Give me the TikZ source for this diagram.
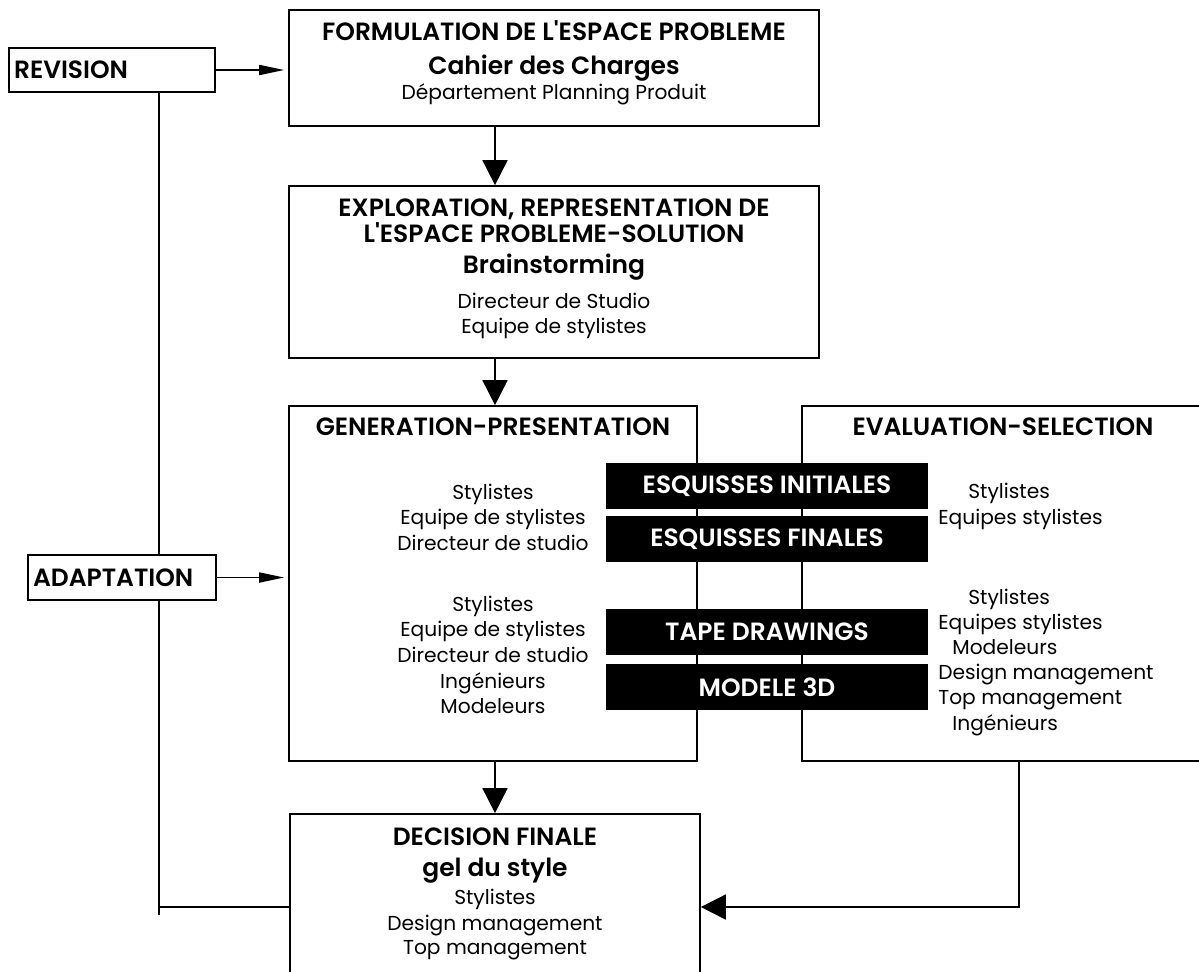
\documentclass[tikz,border=0pt]{standalone}
\usepackage{fontspec}
\setmainfont{Poppins}[BoldFont={Poppins SemiBold}]
\usetikzlibrary{arrows.meta,calc,positioning}

\newcommand{\hdfont}{\bfseries\fontsize{14.2}{17}\selectfont}
\newcommand{\rgfont}{\fontsize{11.5}{14}\selectfont}
\tikzset{
  box/.style={draw,line width=1pt,inner sep=0pt},
  blk/.style={fill=black,text=white,inner sep=0pt,minimum width=6.44cm,minimum height=0.92cm,font=\hdfont},
  tag/.style={draw,line width=1pt,inner xsep=0.1cm,align=left,font=\hdfont},
  rg/.style={anchor=base,inner sep=0pt,font=\rgfont},
  hd/.style={anchor=base,inner sep=0pt,font=\hdfont},
  dn/.style={-{Triangle[length=0.5cm,width=0.5cm]},line width=1pt},
  rt/.style={-{Triangle[length=0.5cm,width=0.2cm]},line width=1pt,shorten >=0.08cm}
}

\begin{document}
\begin{tikzpicture}[x=0.02cm,y=-0.02cm]
\useasboundingbox (0,0) rectangle (1199,971); \clip (0,0) rectangle (1199,971);
% main boxes
\node[box,minimum width=10.6cm,minimum height=2.32cm] (form) at (554,68) {};
\node[box,minimum width=10.6cm,minimum height=3.44cm] (expl) at (554,272) {};
\node[box,minimum width=8.16cm,minimum height=7.1cm] (gen) at (493,583.5) {};
\node[box,minimum width=8.04cm,minimum height=7.1cm] (eval) at (1003,583.5) {};
\node[box,minimum width=8.2cm,minimum height=3.72cm] (dec) at (495,907) {};
\node[tag,text width=3.92cm,minimum height=0.88cm] (rev) at (112,70) {REVISION};
\node[tag,text width=3.56cm,minimum height=0.9cm] (adapt) at (122,577.5) {ADAPTATION};
% black bands
\node[blk] (esi) at (767,486) {ESQUISSES INITIALES};
\node[blk] (esf) at (767,539) {ESQUISSES FINALES};
\node[blk] (tape) at (767,632) {TAPE DRAWINGS};
\node[blk] (mod) at (767,687) {MODELE 3D};
% texts
\node[hd] (f1) at (554,40) {FORMULATION DE L\textquotesingle ESPACE PROBLEME};
\node[hd] (f2) at (554,74) {Cahier des Charges};
\node[rg] (f3) at (554,99) {Département Planning Produit};
\node[hd] (e1) at (554,216) {EXPLORATION, REPRESENTATION DE};
\node[hd] (e2) at (554,242) {L\textquotesingle ESPACE PROBLEME-SOLUTION};
\node[hd] (e3) at (554,273) {Brainstorming};
\node[rg] (e4) at (554,308) {Directeur de Studio};
\node[rg] (e5) at (554,333) {Equipe de stylistes};
\node[hd] (g0) at (493,435) {GENERATION-PRESENTATION};
\node[rg] (g1) at (493,499) {Stylistes}; \node[rg] (g2) at (493,524) {Equipe de stylistes};
\node[rg] (g3) at (493,550) {Directeur de studio};
\node[rg] (g4) at (493,611) {Stylistes}; \node[rg] (g5) at (493,636) {Equipe de stylistes};
\node[rg] (g6) at (493,662) {Directeur de studio}; \node[rg] (g7) at (493,688) {Ingénieurs};
\node[rg] (g8) at (493,713) {Modeleurs};
\node[hd] (v0) at (1003,435) {EVALUATION-SELECTION};
\node[rg,anchor=base west] (v1) at (968,498) {Stylistes};
\node[rg,anchor=base west] (v2) at (938,524) {Equipes stylistes};
\node[rg,anchor=base west] (v3) at (968,604) {Stylistes};
\node[rg,anchor=base west] (v4) at (938,629) {Equipes stylistes};
\node[rg,anchor=base west] (v5) at (952,654) {Modeleurs};
\node[rg,anchor=base west] (v6) at (938,679) {Design management};
\node[rg,anchor=base west] (v7) at (938,704) {Top management};
\node[rg,anchor=base west] (v8) at (952,730) {Ingénieurs};
\node[hd] (d1) at (495,845) {DECISION FINALE};
\node[hd] (d2) at (495,876) {gel du style};
\node[rg] (d3) at (495,904) {Stylistes};
\node[rg] (d4) at (495,930) {Design management};
\node[rg] (d5) at (495,954) {Top management};
% connectors
\draw[rt] (rev.east) -- (rev.east -| form.west);
\draw[rt] (adapt.east) -- (adapt.east -| gen.west);
\draw[dn] (form.south -| dec.north) -- (expl.north -| dec.north);
\draw[dn] (expl.south -| dec.north) -- (gen.north -| dec.north);
\draw[dn] (gen.south -| dec.north) -- (dec.north);
\coordinate (fbl) at (159,907); \coordinate (fbr) at (1019,907);
\draw[line width=1pt] (dec.west) -- (fbl) -- ++(0,8);
\draw[line width=1pt] (fbl) -- (adapt.south -| fbl); \draw[line width=1pt] (adapt.north -| fbl) -- (rev.south -| fbl);
\draw[dn] (eval.south -| fbr) -- (fbr) -- (dec.east);
\end{tikzpicture}
\end{document}
